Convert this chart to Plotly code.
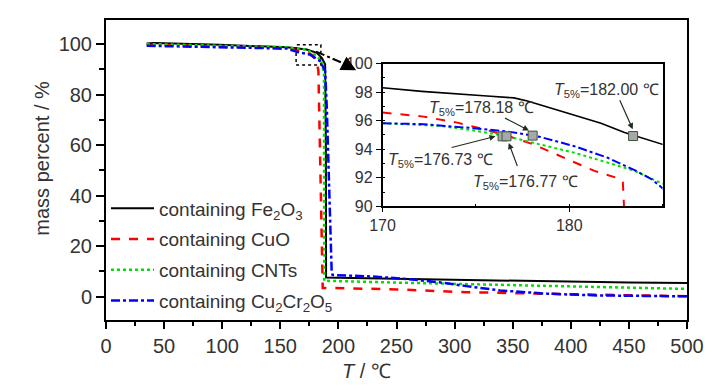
import plotly.graph_objects as go

# ---------------- main TG curves ----------------
fe_T = [35, 41, 98, 155.6, 172.8, 181.4, 185.7, 188.6, 189.2, 189.4, 200, 250, 300, 350, 400, 450, 500]
fe_m = [100.2, 100.4, 99.7, 98.7, 97.8, 96.5, 94.5, 92.0, 60, 7.6, 7.5, 7.1, 6.7, 6.3, 5.9, 5.6, 5.4]

cuo_T = [35, 98, 155.6, 169.9, 177.1, 181.4, 182.8, 184.5, 186.5, 190, 250, 310, 350, 425, 500]
cuo_m = [99.7, 99.1, 98.2, 97.4, 95.8, 93.2, 89.3, 50, 3.5, 3.5, 2.9, 1.8, 1.4, 0.8, 0.2]

cnt_T = [35, 98, 155.6, 172.8, 181.4, 185.7, 187.6, 187.8, 190, 250, 310, 396, 450, 500]
cnt_m = [100.0, 99.4, 98.7, 97.8, 95.2, 93.2, 88.0, 6.3, 6.3, 5.6, 5.0, 4.4, 3.8, 3.1]

ccr_T = [35, 98, 155.6, 164.2, 175.6, 184.3, 188.6, 190, 192, 194.2, 195, 230, 260, 287, 310, 339, 380, 425, 494, 500]
ccr_m = [99.3, 98.7, 98.2, 96.9, 95.8, 93.2, 89.3, 75, 45, 10, 8.6, 8.0, 7.0, 5.7, 4.2, 2.5, 1.2, 0.5, 0.2, 0.2]

# ---------------- inset (zoom 170-185 degC) ----------------
in_fe_T = [170, 172.1, 175.6, 177.04, 177.76, 178.8, 180.27, 181.7, 182.96, 183.86, 185.04]
in_fe_m = [98.3, 98.05, 97.72, 97.59, 97.38, 96.97, 96.39, 95.82, 95.17, 94.78, 94.32]

in_cuo_T = [170, 172.19, 173.99, 175.42, 176.68, 178.11, 179.91, 181.35, 182.75, 182.87, 182.93, 182.95]
in_cuo_m = [96.57, 96.28, 95.86, 95.4, 94.94, 94.32, 93.29, 92.48, 91.91, 91.68, 90.07, 89.0]

in_cnt_T = [170, 173.09, 174.88, 176.68, 178.47, 180.27, 182.06, 183.5, 185.04]
in_cnt_m = [95.82, 95.63, 95.31, 94.9, 94.32, 93.75, 93.06, 92.48, 91.56]

in_ccr_T = [170, 172.19, 174.88, 176.68, 178.47, 180.27, 182.06, 183.5, 184.4, 185.04]
in_ccr_m = [95.82, 95.75, 95.47, 95.24, 94.85, 94.21, 93.4, 92.53, 91.91, 91.22]

# T5% marker points (as drawn) and their labels
t5_x = [176.43, 176.64, 178.04, 183.42]
t5_y = [94.9, 94.9, 94.95, 94.92]
t5_labels = ["176.73", "176.77", "178.18", "182.00"]

x_ticks = [0, 50, 100, 150, 200, 250, 300, 350, 400, 450, 500]
y_ticks = [0, 20, 40, 60, 80, 100]

FONT = "Arial, Liberation Sans, sans-serif"
TXT = "#333333"
RED = "#FF0000"
GREEN = "#00E000"
BLUE = "#0000FF"

fig = go.Figure()

series = [
    ("containing Fe<sub>2</sub>O<sub>3</sub>", fe_T, fe_m, in_fe_T, in_fe_m, "black", "solid", 2),
    ("containing CuO", cuo_T, cuo_m, in_cuo_T, in_cuo_m, RED, "dash", 2.5),
    ("containing CNTs", cnt_T, cnt_m, in_cnt_T, in_cnt_m, GREEN, "dot", 2.5),
    ("containing Cu<sub>2</sub>Cr<sub>2</sub>O<sub>5</sub>", ccr_T, ccr_m, in_ccr_T, in_ccr_m, BLUE, "dashdot", 2.5),
]
for i, (name, tx, my, itx, imy, col, dash, w) in enumerate(series):
    fig.add_trace(go.Scatter(x=tx, y=my, mode="lines", name=name, legendgroup=f"g{i}",
                             line=dict(color=col, dash=dash, width=w), xaxis="x", yaxis="y"))
for i, (name, tx, my, itx, imy, col, dash, w) in enumerate(series):
    fig.add_trace(go.Scatter(x=itx, y=imy, mode="lines", showlegend=False,
                             line=dict(color=col, dash=dash, width=w * 0.8), xaxis="x2", yaxis="y2"))

fig.add_trace(go.Scatter(x=t5_x, y=t5_y, mode="markers", showlegend=False,
                         marker=dict(symbol="square", size=9, color="#A8A8A8",
                                     line=dict(color="#3C553C", width=1)),
                         xaxis="x2", yaxis="y2"))

axis_common = dict(showline=True, linecolor="black", mirror=True, showgrid=False, zeroline=False,
                   tickcolor="black", tickfont=dict(family=FONT, size=20, color=TXT))

fig.update_layout(
    width=728, height=390,
    margin=dict(l=106, r=41, t=15, b=70),
    paper_bgcolor="white", plot_bgcolor="white",
    font=dict(family=FONT, color=TXT),
    xaxis=dict(domain=[0, 1], range=[0, 500], tickvals=x_ticks, ticks="outside", ticklen=7, tickwidth=1.5,
               linewidth=2, minor=dict(dtick=25, ticks="outside", ticklen=4, tickcolor="black", tickwidth=1.5),
               **axis_common),
    yaxis=dict(domain=[0, 1], range=[-9.2, 109.5], tickvals=y_ticks, ticks="outside", ticklen=8, tickwidth=1.5,
               linewidth=2, minor=dict(dtick=10, ticks="outside", ticklen=5, tickcolor="black", tickwidth=1.5),
               **axis_common),
    xaxis2=dict(domain=[0.476, 0.958], anchor="y2", range=[170, 185], tickvals=[170, 180],
                ticks="outside", ticklen=4, linewidth=1.5, showline=True, linecolor="black", mirror=True,
                showgrid=False, zeroline=False, tickcolor="black",
                minor=dict(dtick=5, ticks="inside", ticklen=3, tickcolor="black"),
                tickfont=dict(family=FONT, size=16, color=TXT)),
    yaxis2=dict(domain=[0.379, 0.855], anchor="x2", range=[90, 100], tickvals=[90, 92, 94, 96, 98, 100],
                ticks="outside", ticklen=5, linewidth=1.5, showline=True, linecolor="black", mirror=True,
                showgrid=False, zeroline=False, tickcolor="black",
                minor=dict(dtick=1, ticks="inside", ticklen=3, tickcolor="black"),
                tickfont=dict(family=FONT, size=16, color=TXT)),
    legend=dict(x=0.0, xanchor="left", y=0.435, yanchor="top", bgcolor="rgba(0,0,0,0)",
                font=dict(family=FONT, size=19, color=TXT), itemwidth=43, tracegroupgap=3),
    showlegend=True,
)

# dotted zoom box and connector
fig.add_shape(type="rect", xref="x", yref="y", x0=163.6, x1=184.9, y0=91.7, y1=99.7,
              line=dict(color="black", dash="dot", width=1.5))
fig.add_shape(type="line", xref="x", yref="y", x0=180.8, y0=97.0, x1=205, y1=92.2,
              line=dict(color="black", dash="dashdot", width=2))
fig.add_annotation(xref="x", yref="y", axref="x", ayref="y", x=215.3, y=89.6, ax=203, ay=92.6,
                   text="", showarrow=True, arrowhead=2, arrowsize=2.0, arrowwidth=1.5, arrowcolor="black")

# T5% labels and arrows (inset)
lab_pos = [(173.09, 93.19), (177.66, 91.68), (175.32, 96.85), (182.0, 98.09)]
arrow_tail = [(173.62, 94.09), (177.25, 92.71), (176.48, 96.23), (182.67, 97.53)]
arrow_head = [(176.05, 94.90), (176.76, 94.43), (177.84, 95.31), (183.40, 95.40)]
for lbl, (lx, ly), (tx, ty), (hx, hy) in zip(t5_labels, lab_pos, arrow_tail, arrow_head):
    fig.add_annotation(xref="x2", yref="y2", x=lx, y=ly, showarrow=False,
                       xanchor="center", yanchor="middle",
                       text=f"<i>T</i><sub>5%</sub>=" + lbl + " ℃",
                       font=dict(family=FONT, size=16, color=TXT))
    fig.add_annotation(xref="x2", yref="y2", axref="x2", ayref="y2", x=hx, y=hy, ax=tx, ay=ty,
                       text="", showarrow=True, arrowhead=2, arrowsize=1, arrowwidth=1.2,
                       arrowcolor="#1E2E1E")

# axis titles
fig.add_annotation(xref="paper", yref="paper", x=0.449, y=-0.170, showarrow=False,
                   xanchor="center", yanchor="middle",
                   text="<i>T</i> / ℃", font=dict(family=FONT, size=20, color=TXT))
fig.add_annotation(xref="paper", yref="paper", x=-0.110, y=0.538, showarrow=False, textangle=-90,
                   xanchor="center", yanchor="middle",
                   text="mass percent / %", font=dict(family=FONT, size=20, color=TXT))

fig.write_html("out.html", config={"displayModeBar": False},
               post_script="document.body.style.margin='0px';")
